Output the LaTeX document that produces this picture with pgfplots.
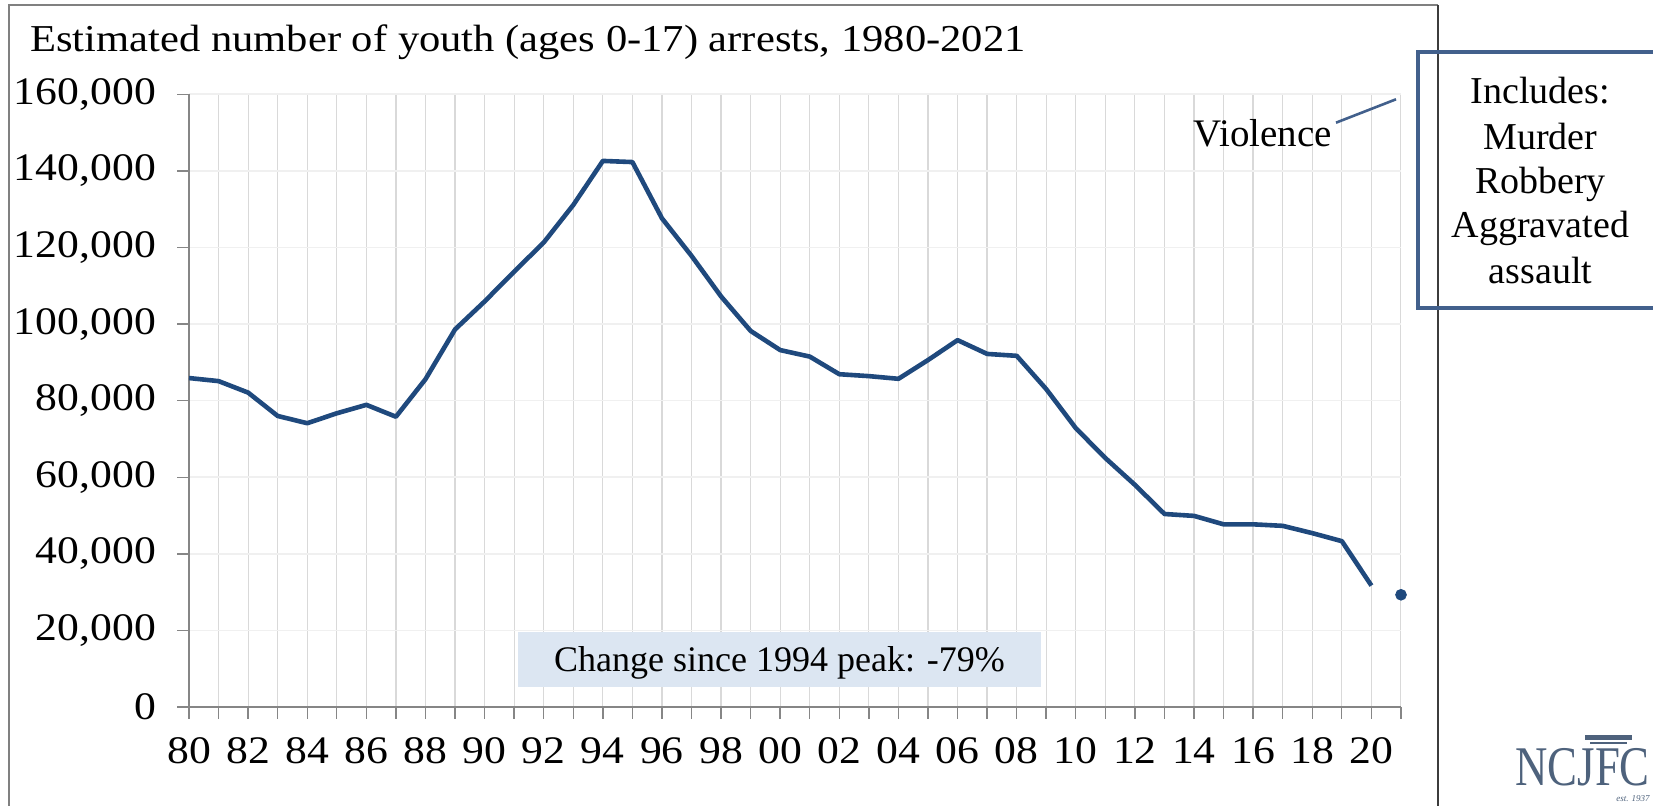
\documentclass[border=0pt]{standalone}
\usepackage{fontspec}
\setmainfont{Liberation Serif}
\newfontfamily\widefont{Liberation Serif}[FakeStretch=1.12]
\usepackage{pgfplots}
\pgfplotsset{compat=1.18}
\definecolor{lineblue}{RGB}{31,73,125}
\definecolor{boxblue}{RGB}{66,96,140}
\definecolor{chgfill}{RGB}{220,230,242}
\definecolor{vgrid}{RGB}{217,217,217}
\definecolor{hgrid}{RGB}{240,240,240}
\definecolor{axgray}{RGB}{134,134,134}
\definecolor{logoc}{RGB}{78,98,124}
\begin{document}
\begin{tikzpicture}
\useasboundingbox (0,0) rectangle (826.5pt,403pt);
\clip (0,0) rectangle (826.5pt,403pt);
\begin{axis}[
  at={(94.5pt,49.5pt)}, anchor=south west,
  scale only axis, width=606pt, height=306.35pt,
  xmin=1980, xmax=2021, ymin=0, ymax=160000,
  axis x line*=bottom, axis y line*=left,
  axis line style={axgray, line width=0.8pt, -},
  xtick={1980,...,2021},
  xticklabels={80,,82,,84,,86,,88,,90,,92,,94,,96,,98,,00,,02,,04,,06,,08,,10,,12,,14,,16,,18,,20,},
  ytick={0,20000,...,160000},
  grid=major,
  x grid style={vgrid, line width=0.6pt},
  y grid style={hgrid, line width=0.8pt},
  tick align=outside, major tick length=6pt,
  tick style={axgray, line width=0.7pt},
  ticklabel style={font=\widefont\fontsize{19.5}{23}\selectfont},
  /pgf/number format/fixed,
  /pgf/number format/1000 sep={,},
  /pgf/number format/assume math mode=true,
  scaled y ticks=false,
  xticklabel style={yshift=-6pt},
  yticklabel style={xshift=-7pt},
  clip=false,
]
\addplot[lineblue, line width=2.3pt, line join=round, mark=none] coordinates {
(1980,85900) (1981,85100) (1982,82100) (1983,76000) (1984,74100)
(1985,76700) (1986,78900) (1987,75800) (1988,85600) (1989,98600)
(1990,105900) (1991,113700) (1992,121300) (1993,131100) (1994,142600)
(1995,142300) (1996,127600) (1997,117800) (1998,107200) (1999,98200)
(2000,93200) (2001,91500) (2002,86900) (2003,86400) (2004,85700)
(2005,90600) (2006,95800) (2007,92200) (2008,91700) (2009,83000)
(2010,72800) (2011,65000) (2012,58000) (2013,50400) (2014,49900)
(2015,47700) (2016,47700) (2017,47300) (2018,45400) (2019,43300)
(2020,31700)
};
\addplot[only marks, mark=*, mark size=2.7pt, lineblue] coordinates {(2021,29300)};
\end{axis}
\begin{scope}[x=0.5pt,y=0.5pt]
  % outer chart border
  \draw[color={rgb,255:red,128;green,128;blue,128}, line width=1pt] (9,-10) -- (9,{806-5}) -- (1438,{806-5});
  \draw[color={rgb,255:red,60;green,60;blue,60}, line width=1pt] (1438,-10) -- (1438,{806-5});
  % title
  \node[anchor=base west, inner sep=0pt, font=\widefont\fontsize{19}{23}\selectfont] at (30,{806-51.7})
    {Estimated number of youth (ages 0-17) arrests, 1980-2021};
  % Violence label and leader
  \node[anchor=base west, inner sep=0pt, font=\fontsize{19.5}{23}\selectfont] at (1193,{806-147}) {Violence};
  \draw[boxblue, line width=1.3pt] (1336,{806-122.7}) -- (1396,{806-99.3});
  % Includes box
  \draw[boxblue, line width=2pt] (1680,{806-51.7}) -- (1417.5,{806-51.7}) -- (1417.5,{806-308}) -- (1680,{806-308});
  \begin{scope}[every node/.style={anchor=base, inner sep=0pt, font=\fontsize{19}{23}\selectfont}]
    \node at (1540.5,{806-104}) {Includes:};
    \node at (1540.5,{806-150}) {Murder};
    \node at (1540.5,{806-194}) {Robbery};
    \node at (1540.5,{806-238}) {Aggravated};
    \node at (1540.5,{806-284}) {assault};
  \end{scope}
  % change box
  \fill[chgfill] (518,{806-631.7}) rectangle (1041,{806-686.7});
  \node[anchor=base, inner sep=0pt, font=\fontsize{18}{21}\selectfont] at (779.5,{806-671.7})
    {Change since 1994 peak: -79\%};
  % logo
  \node[anchor=base west, inner sep=0pt, text=logoc, font=\fontsize{28}{30}\selectfont] at (1515,{806-786})
    {\scalebox{0.8}[1]{NCJFC}};
  \fill[logoc] (1585,{806-735}) rectangle (1632,{806-740});
  \draw[logoc, line width=0.8pt] (1590,{806-743}) -- (1627,{806-743});
  \node[anchor=base east, inner sep=0pt, text=logoc, font=\fontsize{4.5}{6}\selectfont\itshape] at (1650,{806-802}) {est. 1937};
\end{scope}
\end{tikzpicture}
\end{document}
